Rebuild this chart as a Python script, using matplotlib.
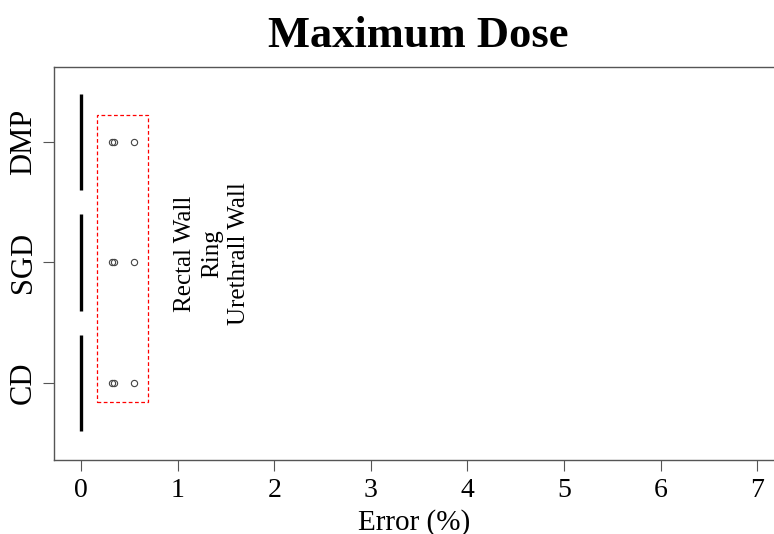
import matplotlib.pyplot as plt
from matplotlib.patches import Rectangle

# categories and errors (%) per structure
groups = ["CD", "SGD", "DMP"]
rectal_wall = [0.32, 0.32, 0.32]
ring = [0.34, 0.34, 0.34]
urethral_wall = [0.55, 0.55, 0.55]
baseline = [0.0, 0.0, 0.0]
labels = ["Rectal Wall", "Ring", "Urethrall Wall"]

plt.rcParams['font.family'] = ['Liberation Serif', 'DejaVu Serif']

fig = plt.figure(figsize=(7.74, 5.34), dpi=100)
ax = fig.add_axes([54/774, 74/534, 720/774, 393/534])

pos = [1, 2, 3]
# collapsed boxes at zero
for p, b in zip(pos, baseline):
    ax.plot([b, b], [p - 0.4, p + 0.4], color='black', lw=2.4, solid_capstyle='butt')

for vals in (rectal_wall, ring, urethral_wall):
    ax.plot(vals, pos, 'o', ms=4.5, mfc='none', mec='#444444', mew=0.8, ls='none')

ax.add_patch(Rectangle((0.165, 0.84), 0.525, 2.38, fill=False, ec='red',
                       ls=(0, (3, 2)), lw=0.9))

ax.text(1.36, 2.07, "\n".join(labels), rotation=90, ha='center', va='center',
        fontsize=18, multialignment='center', linespacing=1.3)

ax.set_xlim(-0.28, 7.175)
ax.set_ylim(0.36, 3.62)
ax.set_xticks(range(8))
ax.set_yticks(pos)
ax.set_yticklabels(groups, rotation=90, va='center', fontsize=22)
ax.tick_params(axis='x', labelsize=20, length=8, width=0.8, color='#555555', pad=5)
ax.tick_params(axis='y', length=8, width=0.8, color='#555555', pad=3.5)
for s in ['left', 'bottom', 'top']:
    ax.spines[s].set_color('#555555')
    ax.spines[s].set_linewidth(1.0)
ax.spines['right'].set_visible(False)

ax.set_xlabel("Error (%)", fontsize=21, labelpad=4)
fig.text(0.54, 0.932, "Maximum Dose", ha='center', va='center',
         fontsize=32, fontweight='bold')

fig.savefig("out.png", dpi=100)
